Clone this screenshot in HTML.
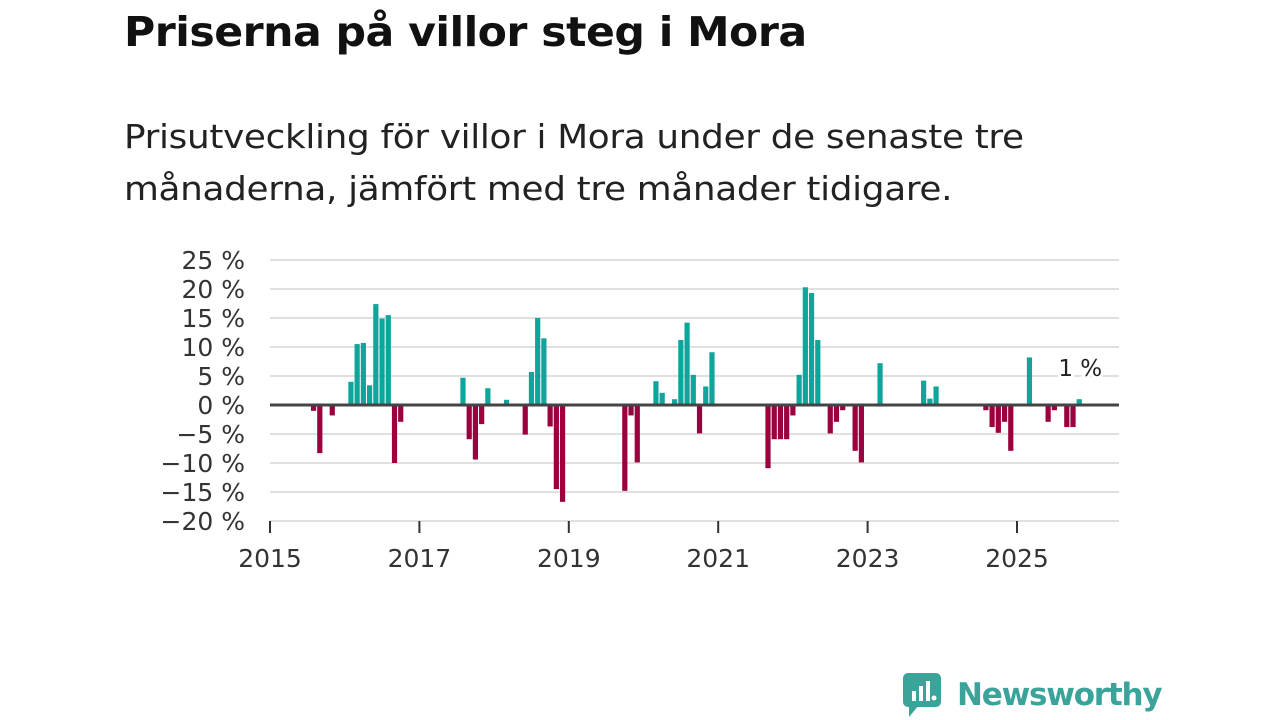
<!DOCTYPE html>
<html><head><meta charset="utf-8"><style>
body{margin:0;width:1280px;height:720px;background:#fff;font-family:"Liberation Sans","DejaVu Sans",sans-serif;overflow:hidden;position:relative}
h1{position:absolute;left:124px;top:8px;margin:0;font-size:41px;font-weight:bold;color:#111;font-family:"DejaVu Sans","Liberation Sans",sans-serif;letter-spacing:-0.5px;transform:scaleX(1.04);transform-origin:left}
.sub{position:absolute;left:124px;top:111px;margin:0;font-size:33px;line-height:52px;color:#222;font-family:"DejaVu Sans","Liberation Sans",sans-serif;letter-spacing:-0.3px;transform:scaleX(1.085);transform-origin:left;white-space:nowrap}
svg text{font-family:"DejaVu Sans","Liberation Sans",sans-serif}
</style></head><body>
<h1>Priserna på villor steg i Mora</h1>
<p class="sub">Prisutveckling för villor i Mora under de senaste tre<br>månaderna, jämfört med tre månader tidigare.</p>
<svg id="chart" width="1280" height="720" style="position:absolute;left:0;top:0"></svg>
<div style="position:absolute;left:903px;top:671px;height:48px;display:flex;align-items:center">
<svg width="40" height="48"><rect x="0" y="2" width="38" height="34" rx="5" fill="#3aa39a"/><polygon points="6,34 16,34 6,46" fill="#3aa39a"/><rect x="9" y="20" width="4" height="10" fill="#fff"/><rect x="16" y="15" width="4" height="15" fill="#fff"/><rect x="23" y="10" width="4" height="20" fill="#fff"/><circle cx="31" cy="27" r="2.5" fill="#fff"/></svg>
<span style="font-size:31px;font-weight:bold;color:#3aa39a;margin-left:14px;font-family:'DejaVu Sans','Liberation Sans',sans-serif;letter-spacing:-1.2px">Newsworthy</span></div>
<script>
const months=[7,8,10,13,14,15,16,17,18,19,20,21,31,32,33,34,35,38,41,42,43,44,45,46,47,57,58,59,62,63,65,66,67,68,69,70,71,80,81,82,83,84,85,86,87,88,90,91,92,94,95,98,105,106,107,115,116,117,118,119,122,125,126,128,129,130];
const values=[-1,-8.3,-1.8,4,10.5,10.7,3.4,17.4,14.9,15.5,-10,-2.9,4.7,-5.9,-9.4,-3.3,2.9,0.9,-5.1,5.7,15,11.5,-3.7,-14.5,-16.7,-14.8,-1.8,-9.9,4.1,2.1,1,11.2,14.2,5.2,-4.9,3.2,9.1,-10.9,-5.9,-5.9,-5.9,-1.8,5.2,20.3,19.3,11.2,-4.9,-2.9,-0.9,-7.9,-9.9,7.2,4.2,1.1,3.2,-0.9,-3.8,-4.8,-2.9,-7.9,8.2,-2.9,-0.9,-3.8,-3.8,1];
const yTicks=[25,20,15,10,5,0,-5,-10,-15,-20];
const xTicks=[2015,2017,2019,2021,2023,2025];
const svg=document.getElementById('chart');const NS='http://www.w3.org/2000/svg';
const x=m=>270+m*(747/120);const y=v=>405-v*5.8;
function mk(t,a){const e=document.createElementNS(NS,t);for(const k in a)e.setAttribute(k,a[k]);svg.appendChild(e);return e;}
yTicks.forEach(v=>{if(v!==0){const l=mk('line',{x1:270,x2:1119,y1:y(v),y2:y(v),stroke:'#e0e0e0','stroke-width':2});

}
const t=mk('text',{x:245,y:y(v)+9,'text-anchor':'end','font-size':25,fill:'#333'});t.textContent=(v<0?'\u2212'+(-v):v)+' %';

});
months.forEach((m,i)=>{const v=values[i];const r=mk('rect',{x:x(m)-2.6,width:5.2,y:v>0?y(v):y(0),height:Math.abs(y(v)-y(0)),fill:v>0?'#0ea59a':'#9b003f'});

});
const z=mk('line',{x1:270,x2:1119,y1:y(0),y2:y(0),stroke:'#444','stroke-width':3});


xTicks.forEach(yr=>{const px=x((yr-2015)*12);const tk=mk('line',{x1:px,x2:px,y1:521,y2:533,stroke:'#333','stroke-width':2});


const t=mk('text',{x:px,y:567,'text-anchor':'middle','font-size':25,fill:'#333'});t.textContent=yr;

});
const li=months.length-1;
const lb=mk('text',{x:x(months[li])+1,y:y(values[li])-23,'text-anchor':'middle','font-size':23,fill:'#222',stroke:'#fff','stroke-width':6,'paint-order':'stroke'});lb.textContent=Math.round(values[li])+' %';


</script>
</body></html>
